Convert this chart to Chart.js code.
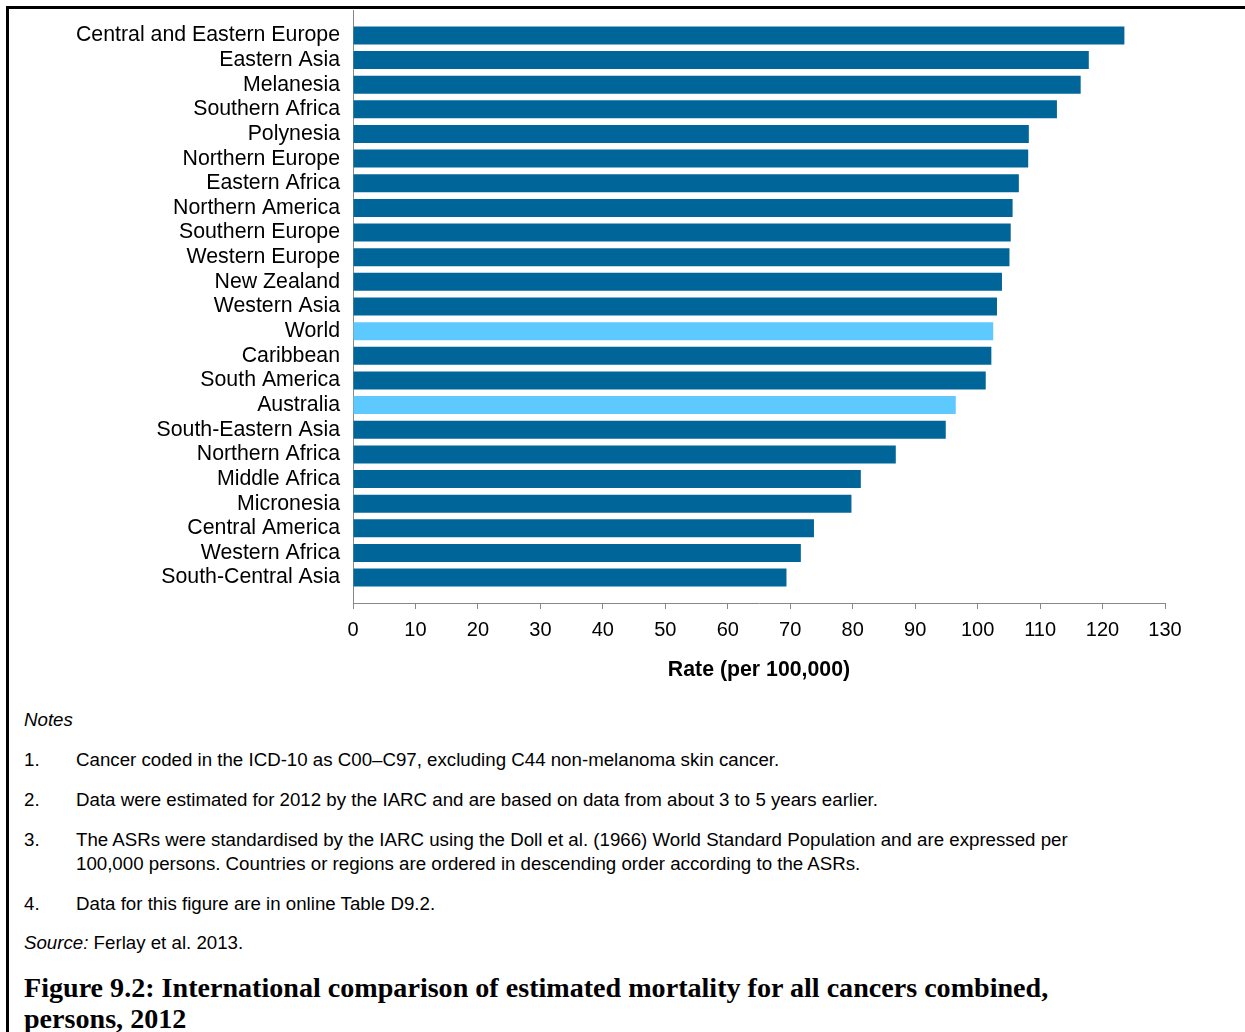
<!DOCTYPE html>
<html>
<head>
<meta charset="utf-8">
<script src="https://cdn.jsdelivr.net/npm/chart.js@4/dist/chart.umd.min.js"></script>
<style>
  html, body { margin: 0; padding: 0; background: #fff; }
  body { width: 1245px; height: 1032px; position: relative; overflow: hidden; font-family: "Liberation Sans", Arial, sans-serif; color: #000; }
  #frameTop { position: absolute; left: 6px; top: 6px; width: 1239px; height: 3px; background: #000; }
  #frameLeft { position: absolute; left: 6px; top: 6px; width: 3px; height: 1026px; background: #000; }
  #wrap { position: absolute; left: 0; top: 0; width: 1245px; height: 700px; }
  .t { position: absolute; font-size: 18.7px; line-height: 20px; white-space: nowrap; }
  .num { left: 24px; }
  .txt { left: 76px; }
  .title { position: absolute; left: 24px; font-family: "Liberation Serif", "Times New Roman", serif; font-weight: bold; font-size: 28.1px; line-height: 31px; white-space: nowrap; }
</style>
</head>
<body>
<div id="frameTop"></div>
<div id="frameLeft"></div>
<div id="wrap"><canvas id="c" width="1245" height="700"></canvas></div>

<div class="t num" style="top:710px;"><i>Notes</i></div>
<div class="t num" style="top:750px;">1.</div>
<div class="t txt" style="top:750px;">Cancer coded in the ICD-10 as C00–C97, excluding C44 non-melanoma skin cancer.</div>
<div class="t num" style="top:790px;">2.</div>
<div class="t txt" style="top:790px;">Data were estimated for 2012 by the IARC and are based on data from about 3 to 5 years earlier.</div>
<div class="t num" style="top:830px;">3.</div>
<div class="t txt" style="top:830px;">The ASRs were standardised by the IARC using the Doll et al. (1966) World Standard Population and are expressed per</div>
<div class="t txt" style="top:854px;">100,000 persons. Countries or regions are ordered in descending order according to the ASRs.</div>
<div class="t num" style="top:894px;">4.</div>
<div class="t txt" style="top:894px;">Data for this figure are in online Table D9.2.</div>
<div class="t num" style="top:933px;"><i>Source:</i> Ferlay et al. 2013.</div>
<div class="title" style="top:972px;">Figure 9.2: International comparison of estimated mortality for all cancers combined,</div>
<div class="title" style="top:1003px;">persons, 2012</div>

<script>
// ---- Data ----
const regions = [
  "Central and Eastern Europe", "Eastern Asia", "Melanesia", "Southern Africa",
  "Polynesia", "Northern Europe", "Eastern Africa", "Northern America",
  "Southern Europe", "Western Europe", "New Zealand", "Western Asia",
  "World", "Caribbean", "South America", "Australia", "South-Eastern Asia",
  "Northern Africa", "Middle Africa", "Micronesia", "Central America",
  "Western Africa", "South-Central Asia"
];
const rates = [
  123.5, 117.8, 116.5, 112.7,
  108.2, 108.1, 106.6, 105.6,
  105.3, 105.1, 103.9, 103.1,
  102.5, 102.2, 101.3, 96.5, 94.9,
  86.9, 81.3, 79.8, 73.8,
  71.7, 69.4
];
const highlighted = ["World", "Australia"];
const xTicks = [0, 10, 20, 30, 40, 50, 60, 70, 80, 90, 100, 110, 120, 130];
const xTitle = "Rate (per 100,000)";

// ---- Styles ----
const DARK = "#006699";
const LIGHT = "#5EC9FF";
const AXIS = "#888888";
const FONT = "'Liberation Sans', Arial, sans-serif";
const barColors = regions.map(r => highlighted.includes(r) ? LIGHT : DARK);

// Extra empty space at the ends of the category axis (in category units)
const CAT_PAD = 0.53;

new Chart(document.getElementById("c"), {
  type: "bar",
  data: {
    labels: regions,
    datasets: [{
      data: rates,
      backgroundColor: barColors,
      borderWidth: 0,
      barPercentage: 0.73,
      categoryPercentage: 1.0
    }]
  },
  options: {
    indexAxis: "y",
    responsive: false,
    animation: false,
    devicePixelRatio: 1,
    layout: { padding: { top: 10, right: 80, left: 0, bottom: 0 } },
    plugins: { legend: { display: false }, tooltip: { enabled: false } },
    scales: {
      x: {
        type: "linear",
        min: 0, max: 130,
        afterBuildTicks: s => { s.ticks = xTicks.map(v => ({ value: v })); },
        afterFit: s => { s.height = 97; s.paddingLeft = 0; s.paddingRight = 0; },
        grid: { display: true, drawOnChartArea: false, drawTicks: true, tickLength: 6, color: AXIS, lineWidth: 1 },
        border: { display: true, color: AXIS, width: 1 },
        ticks: { color: "#000", font: { family: FONT, size: 20 }, padding: 9, maxRotation: 0, autoSkip: false },
        title: { display: true, text: xTitle, color: "#000", font: { family: FONT, size: 21.3, weight: "bold" }, padding: { top: 0, bottom: 17 } }
      },
      y: {
        type: "category",
        offset: true,
        afterBuildTicks: s => { s._startValue -= CAT_PAD; s._valueRange += 2 * CAT_PAD; },
        afterFit: s => { s.width = 353; s.paddingTop = 0; s.paddingBottom = 0; },
        grid: { display: false, drawTicks: false },
        border: { display: true, color: AXIS, width: 1 },
        ticks: { color: "#000", font: { family: FONT, size: 21.3 }, padding: 13, autoSkip: false }
      }
    }
  }
});
</script>
</body>
</html>
